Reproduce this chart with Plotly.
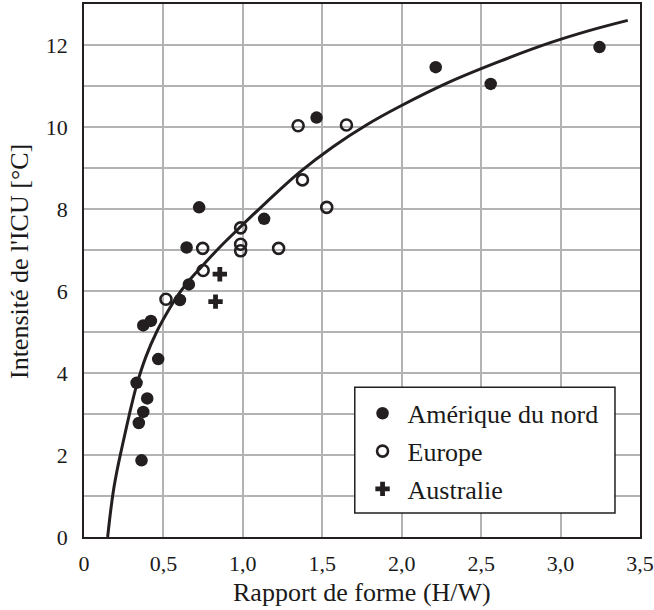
import plotly.graph_objects as go

# Amérique du nord (filled)
na_x = [3.245, 2.214, 2.560, 1.464, 0.725, 1.134, 0.646, 0.660, 0.604, 0.373, 0.421, 0.467, 0.331, 0.398, 0.373, 0.345, 0.362]
na_y = [11.95, 11.46, 11.05, 10.23, 8.04, 7.76, 7.06, 6.16, 5.78, 5.16, 5.27, 4.34, 3.76, 3.38, 3.05, 2.78, 1.87]

# Europe (open)
eu_x = [1.348, 1.652, 1.375, 1.528, 0.986, 0.986, 0.986, 1.225, 0.747, 0.750, 0.516]
eu_y = [10.03, 10.05, 8.71, 8.04, 7.54, 7.14, 6.98, 7.04, 7.04, 6.50, 5.80]

# Australie (plus)
au_x = [0.855, 0.828]
au_y = [6.41, 5.74]

# Courbe de tendance
fit_x = [0.149, 0.165, 0.184, 0.208, 0.233, 0.260, 0.285, 0.331, 0.390, 0.457, 0.520, 0.583, 0.650,
         0.730, 0.850, 0.981, 1.149, 1.358, 1.568, 1.778, 1.987, 2.302, 2.616, 2.931, 3.180, 3.423]
fit_y = [0.00, 0.55, 1.10, 1.62, 2.08, 2.55, 2.98, 3.70, 4.40, 5.00, 5.45, 5.85, 6.20,
         6.55, 7.05, 7.55, 8.17, 8.90, 9.52, 10.05, 10.50, 11.10, 11.60, 12.05, 12.35, 12.60]

x_tickvals = [0, 0.5, 1.0, 1.5, 2.0, 2.5, 3.0, 3.5]
x_ticktext = ["0", "0,5", "1,0", "1,5", "2,0", "2,5", "3,0", "3,5"]
y_tickvals = [0, 2, 4, 6, 8, 10, 12]
y_ticktext = ["0", "2", "4", "6", "8", "10", "12"]

FONT = "'Liberation Serif', 'Times New Roman', 'DejaVu Serif', serif"
INK = "#231f20"
TXT = "#1a1a1a"
GRID = "#b3b3b3"

fig = go.Figure()
fig.add_trace(go.Scatter(x=fit_x, y=fit_y, mode="lines",
                         line=dict(color=INK, width=3, shape="spline", smoothing=1.0),
                         showlegend=False, hoverinfo="skip"))
fig.add_trace(go.Scatter(x=na_x, y=na_y, mode="markers", name="Amérique du nord", legendgroup="a",
                         marker=dict(symbol="circle", size=12.5, color=INK, line=dict(width=0))))
fig.add_trace(go.Scatter(x=eu_x, y=eu_y, mode="markers", name="Europe", legendgroup="b",
                         marker=dict(symbol="circle-open", size=11, color=INK, line=dict(width=2.6, color=INK))))
fig.add_trace(go.Scatter(x=au_x, y=au_y, mode="markers", name="Australie", legendgroup="c",
                         marker=dict(symbol="cross", size=12, color=INK, line=dict(width=0))))

fig.update_layout(
    width=654, height=610,
    margin=dict(l=84, r=14, t=4, b=73, autoexpand=False),
    paper_bgcolor="white", plot_bgcolor="white",
    font=dict(family=FONT, size=22, color=TXT),
    legend=dict(x=0.492, y=0.276, xanchor="left", yanchor="top",
                borderwidth=0, bgcolor="rgba(0,0,0,0)",
                font=dict(family=FONT, size=26, color=TXT),
                tracegroupgap=1, traceorder="grouped", itemwidth=40),
    showlegend=True,
    shapes=[dict(type="rect", xref="paper", yref="paper", x0=0.487, x1=0.955, y0=0.045, y1=0.281,
                 fillcolor="white", line=dict(color=INK, width=1.5), layer="above")],
    annotations=[
        dict(text="Rapport de forme (H/W)", xref="paper", yref="paper", x=0.5, y=-0.105,
             xanchor="center", yanchor="middle", showarrow=False, font=dict(family=FONT, size=26, color=TXT)),
        dict(text="Intensité de l'ICU [°C]", xref="paper", yref="paper", x=-0.115, y=0.516,
             xanchor="center", yanchor="middle", textangle=-90, showarrow=False,
             font=dict(family=FONT, size=26, color=TXT)),
    ],
)
fig.update_xaxes(range=[0, 3.5], tickvals=x_tickvals, ticktext=x_ticktext,
                 showgrid=True, gridcolor=GRID, gridwidth=2,
                 showline=True, linecolor=INK, linewidth=1.5, mirror=True,
                 zeroline=False, ticks="", ticklabelstandoff=6, automargin=False,
                 tickfont=dict(family=FONT, size=22, color=TXT))
fig.update_yaxes(range=[0, 13], tickvals=y_tickvals, ticktext=y_ticktext,
                 showgrid=True, gridcolor=GRID, gridwidth=2,
                 minor=dict(dtick=1, tick0=0, showgrid=True, gridcolor=GRID, gridwidth=2),
                 showline=True, linecolor=INK, linewidth=1.5, mirror=True,
                 zeroline=False, ticks="", ticklabelstandoff=10, automargin=False,
                 tickfont=dict(family=FONT, size=22, color=TXT))

fig.write_html("out.html")
